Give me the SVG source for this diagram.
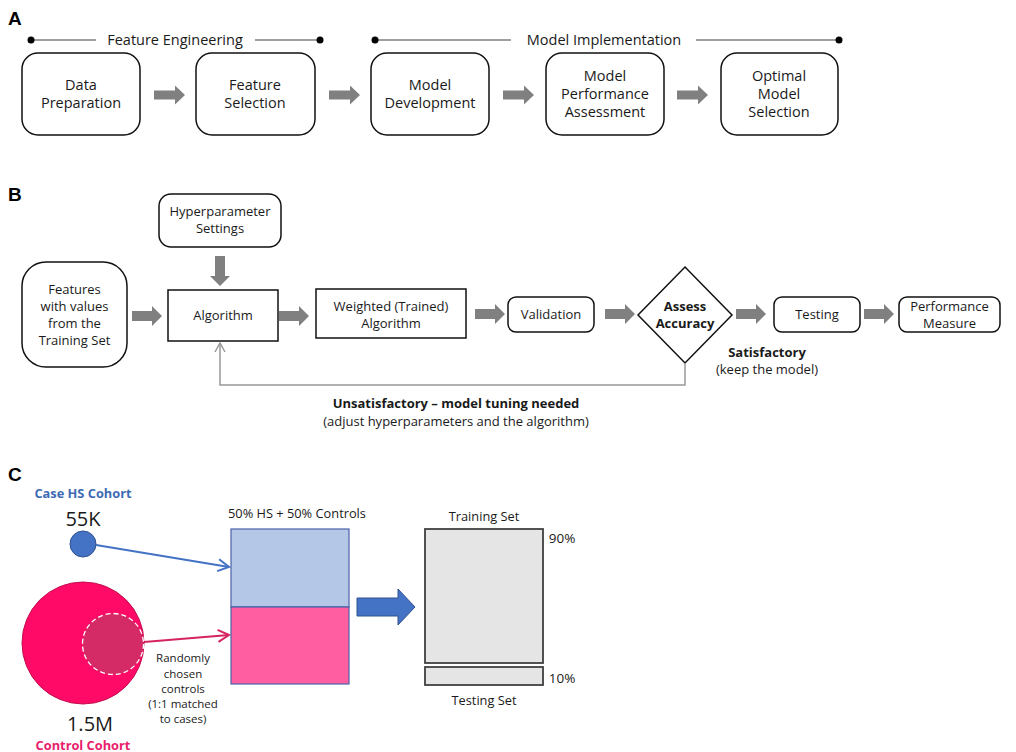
<svg xmlns="http://www.w3.org/2000/svg" width="1016" height="752" viewBox="0 0 1016 752">
<style>
text{font-family:"Open Sans","Noto Sans","Liberation Sans",sans-serif;fill:#1a1a1a;text-anchor:middle}
.lbl{font-family:"Liberation Sans",Arial,sans-serif;font-weight:bold;font-size:19px;text-anchor:start;fill:#000}
.ta{font-size:14.5px}
.tb{font-size:13px}
.tc{font-size:12.8px}
.bold{font-weight:bold}
.rbox{fill:#fff;stroke:#111;stroke-width:1.5}
.gline{stroke:#7f7f7f;stroke-width:1.3;fill:none}
.garr{fill:#808080}
</style>
<defs>
<path id="arrA" d="M0,-4.5 H21 V-9.5 L31,0 L21,9.5 V4.5 H0 Z"/>
<path id="arrB" d="M0,-5 H20 V-10 L30,0 L20,10 V5 H0 Z"/>
<marker id="openG" markerWidth="12" markerHeight="12" refX="10" refY="6" orient="auto" markerUnits="userSpaceOnUse">
<path d="M1,1 L10,6 L1,11" fill="none" stroke="#999" stroke-width="1.5"/>
</marker>
<marker id="openBlue" markerWidth="14" markerHeight="14" refX="12" refY="7" orient="auto" markerUnits="userSpaceOnUse">
<path d="M1,1 L12,7 L1,13" fill="none" stroke="#4472c4" stroke-width="2"/>
</marker>
<marker id="openPink" markerWidth="14" markerHeight="14" refX="12" refY="7" orient="auto" markerUnits="userSpaceOnUse">
<path d="M1,1 L12,7 L1,13" fill="none" stroke="#d6245f" stroke-width="2"/>
</marker>
</defs>

<!-- Panel labels -->
<text class="lbl" x="8" y="25">A</text>
<text class="lbl" x="8" y="201">B</text>
<text class="lbl" x="8" y="481">C</text>

<!-- Panel A group headers -->
<g id="header-fe">
<line class="gline" x1="31" y1="40" x2="96" y2="40"/>
<line class="gline" x1="255" y1="40" x2="320" y2="40"/>
<circle cx="31" cy="40" r="3.5" fill="#000"/>
<circle cx="320" cy="40" r="3.5" fill="#000"/>
<text class="ta" x="175" y="45">Feature Engineering</text>
</g>
<g id="header-mi">
<line class="gline" x1="375" y1="40" x2="511" y2="40"/>
<line class="gline" x1="696" y1="40" x2="839" y2="40"/>
<circle cx="375" cy="40" r="3.5" fill="#000"/>
<circle cx="839" cy="40" r="3.5" fill="#000"/>
<text class="ta" x="604" y="45">Model Implementation</text>
</g>

<!-- Panel A nodes -->
<g id="a-data-prep">
<rect class="rbox" x="22" y="53" width="118" height="82" rx="16"/>
<text class="ta" x="81" y="90">Data</text>
<text class="ta" x="81" y="108">Preparation</text>
</g>
<g id="a-feature-sel">
<rect class="rbox" x="196" y="53" width="119" height="82" rx="16"/>
<text class="ta" x="255" y="90">Feature</text>
<text class="ta" x="255" y="108">Selection</text>
</g>
<g id="a-model-dev">
<rect class="rbox" x="371" y="53" width="118" height="82" rx="16"/>
<text class="ta" x="430" y="90">Model</text>
<text class="ta" x="430" y="108">Development</text>
</g>
<g id="a-model-perf">
<rect class="rbox" x="546" y="53" width="118" height="82" rx="16"/>
<text class="ta" x="605" y="81">Model</text>
<text class="ta" x="605" y="99">Performance</text>
<text class="ta" x="605" y="117">Assessment</text>
</g>
<g id="a-optimal">
<rect class="rbox" x="721" y="53" width="117" height="82" rx="16"/>
<text class="ta" x="779" y="81">Optimal</text>
<text class="ta" x="779" y="99">Model</text>
<text class="ta" x="779" y="117">Selection</text>
</g>

<!-- Panel B nodes -->
<g id="b-hyper">
<rect class="rbox" x="159" y="194" width="122" height="53" rx="12"/>
<text class="tb" x="220" y="216">Hyperparameter</text>
<text class="tb" x="220" y="233">Settings</text>
</g>
<g id="b-features">
<rect class="rbox" x="22" y="262" width="105" height="105" rx="24"/>
<text class="tb" x="74.5" y="294">Features</text>
<text class="tb" x="74.5" y="311">with values</text>
<text class="tb" x="74.5" y="328">from the</text>
<text class="tb" x="74.5" y="345">Training Set</text>
</g>
<g id="b-algorithm">
<rect class="rbox" x="168" y="290" width="110" height="51"/>
<text class="tb" x="223" y="320">Algorithm</text>
</g>
<g id="b-weighted">
<rect class="rbox" x="316" y="289" width="150" height="49"/>
<text class="tb" x="391" y="311">Weighted (Trained)</text>
<text class="tb" x="391" y="328">Algorithm</text>
</g>
<g id="b-validation">
<rect class="rbox" x="508" y="297" width="86" height="35" rx="8"/>
<text class="tb" x="551" y="319">Validation</text>
</g>
<g id="b-assess">
<polygon points="685,267 732,315 685,363 638,315" fill="#fff" stroke="#111" stroke-width="1.5"/>
<text class="tb bold" x="685" y="311">Assess</text>
<text class="tb bold" x="685" y="328">Accuracy</text>
</g>
<g id="b-testing">
<rect class="rbox" x="774" y="297" width="86" height="35" rx="8"/>
<text class="tb" x="817" y="319">Testing</text>
</g>
<g id="b-perf">
<rect class="rbox" x="899" y="297" width="101" height="35" rx="8"/>
<text class="tb" x="949.5" y="311">Performance</text>
<text class="tb" x="949.5" y="328">Measure</text>
</g>
<g id="b-labels">
<text class="tb bold" x="767" y="357">Satisfactory</text>
<text class="tb" x="767" y="374">(keep the model)</text>
<text class="tb bold" x="456" y="408">Unsatisfactory – model tuning needed</text>
<text class="tb" x="456" y="426">(adjust hyperparameters and the algorithm)</text>
</g>

<!-- Connectors -->
<g id="connectors">
<g class="garr">
<use href="#arrA" x="154" y="95"/>
<use href="#arrA" x="329" y="95"/>
<use href="#arrA" x="503" y="95"/>
<use href="#arrA" x="677" y="95"/>
<use href="#arrB" x="132" y="316"/>
<use href="#arrB" x="279" y="316"/>
<use href="#arrB" x="475" y="314"/>
<use href="#arrB" x="605" y="314"/>
<use href="#arrB" x="736" y="314"/>
<use href="#arrB" x="864" y="314"/>
<use href="#arrB" transform="translate(220,256) rotate(90)"/>
</g>
<polyline points="685,363 685,385 220,385 220,343" fill="none" stroke="#999" stroke-width="1.5" marker-end="url(#openG)"/>
<line x1="96" y1="545" x2="229" y2="567" stroke="#4472c4" stroke-width="2" marker-end="url(#openBlue)"/>
<line x1="144" y1="642" x2="229" y2="635" stroke="#d6245f" stroke-width="2" marker-end="url(#openPink)"/>
<path d="M357,598 H398 V589 L415,607 L398,625 V616 H357 Z" fill="#4472c4" stroke="#2f528f" stroke-width="1"/>
</g>

<!-- Panel C -->
<g id="c-case">
<text class="tc bold" x="83" y="498" style="fill:#3d6bb3">Case HS Cohort</text>
<text x="83" y="526" style="font-size:20px">55K</text>
<circle cx="83" cy="544" r="13" fill="#4472c4" stroke="#2f528f" stroke-width="1"/>
</g>
<g id="c-control">
<circle cx="83" cy="643" r="61" fill="#ff0a66" stroke="#c0104e" stroke-width="1"/>
<circle cx="113" cy="644" r="30.5" fill="#d42a65" stroke="#fff" stroke-width="1.3" stroke-dasharray="5,3"/>
<text x="90" y="731" style="font-size:20px">1.5M</text>
<text class="tc bold" x="83" y="750" style="fill:#e8206b">Control Cohort</text>
</g>
<g id="c-random-label" style="font-size:11.5px">
<text x="183" y="662">Randomly</text>
<text x="183" y="678">chosen</text>
<text x="183" y="693">controls</text>
<text x="183" y="708">(1:1 matched</text>
<text x="183" y="723">to cases)</text>
</g>
<g id="c-mixed">
<text class="tc" x="297" y="518">50% HS + 50% Controls</text>
<rect x="231" y="529" width="118" height="78" fill="#b4c7e7" stroke="#4a62a8" stroke-width="1.2"/>
<rect x="231" y="607" width="118" height="77" fill="#ff5fa0" stroke="#4a62a8" stroke-width="1.2"/>
</g>
<g id="c-training">
<text class="tc" x="484" y="521">Training Set</text>
<rect x="425" y="529" width="118" height="134" fill="#e5e5e5" stroke="#404040" stroke-width="1.8"/>
<text x="562" y="543" style="font-size:13.5px">90%</text>
</g>
<g id="c-testing">
<rect x="425" y="667" width="118" height="18" fill="#e5e5e5" stroke="#404040" stroke-width="1.8"/>
<text x="562" y="683" style="font-size:13.5px">10%</text>
<text class="tc" x="484" y="705">Testing Set</text>
</g>
</svg>
